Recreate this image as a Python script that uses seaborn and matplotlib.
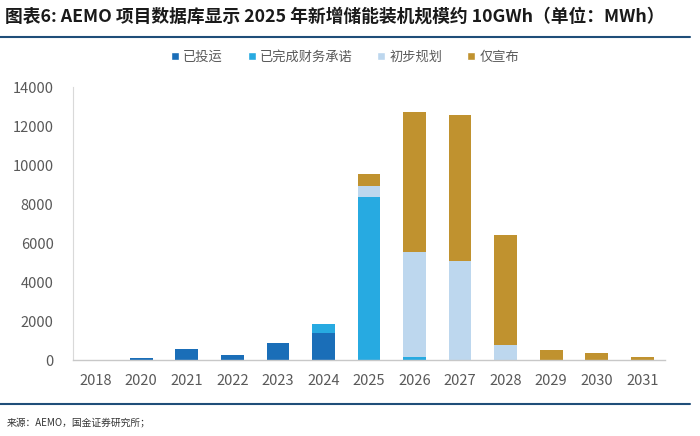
import numpy as np
import pandas as pd
import matplotlib
matplotlib.use("Agg")
import matplotlib.pyplot as plt
from matplotlib.patches import Patch
import seaborn as sns

years = ["2018", "2020", "2021", "2022", "2023", "2024", "2025",
         "2026", "2027", "2028", "2029", "2030", "2031"]
operating = [0, 80, 550, 240, 860, 1400, 0, 0, 0, 0, 0, 0, 0]
committed = [0, 0, 0, 0, 0, 430, 8340, 140, 0, 0, 0, 0, 0]
planned = [0, 0, 0, 0, 0, 0, 580, 5400, 5090, 770, 0, 0, 0]
announced = [0, 0, 0, 0, 0, 0, 630, 7160, 7460, 5640, 500, 375, 140]

series_names = ["已投运", "已完成财务承诺", "初步规划", "仅宣布"]
colors = ["#1a6eb8", "#27aae1", "#bdd7ee", "#c0922f"]

sns.set_theme(style="white")
plt.rcParams["font.family"] = ["Noto Sans CJK SC", "DejaVu Sans"]

df = pd.DataFrame({"year": years, "已投运": operating, "已完成财务承诺": committed,
                   "初步规划": planned, "仅宣布": announced})

fig = plt.figure(figsize=(7, 4.36), dpi=100)
ax = fig.add_axes([73 / 700, 1 - 360 / 436, 592 / 700, 273 / 436])

bottom = np.zeros(len(years))
for name, c in zip(series_names, colors):
    sns.barplot(data=df, x="year", y=name, color=c, width=0.5, bottom=bottom,
                ax=ax, saturation=1, linewidth=0)
    bottom = bottom + df[name].values

ax.set_ylim(0, 14000)
ax.set_xlim(-0.5, len(years) - 0.5)
ax.set_yticks(range(0, 14001, 2000))
ax.set_xlabel("")
ax.set_ylabel("")
ax.tick_params(axis="x", length=0, labelsize=10.5, labelcolor="#595959", pad=10)
ax.tick_params(axis="y", length=0, labelsize=10.5, labelcolor="#595959", pad=14)
ax.set_xticks(np.arange(-0.5, len(years), 1), minor=True)
ax.tick_params(axis="x", which="minor", direction="in", length=3, color="#bfbfbf", width=0.8)
for s in ["top", "right"]:
    ax.spines[s].set_visible(False)
ax.spines["left"].set_color("#d9d9d9")
ax.spines["bottom"].set_color("#c8c8c8")
ax.spines["left"].set_linewidth(0.8)
ax.spines["bottom"].set_linewidth(1.0)

handles = [Patch(facecolor=c, label=n) for n, c in zip(series_names, colors)]
fig.legend(handles=handles, loc="center", bbox_to_anchor=(345 / 700, 1 - 57 / 436),
           ncol=4, frameon=False, fontsize=9.5, handlelength=0.6, handleheight=0.6,
           handletextpad=0.3, columnspacing=1.9, labelcolor="#595959")

fig.text(5 / 700, 1 - 17 / 436, "图表6: AEMO 项目数据库显示 2025 年新增储能装机规模约 10GWh（单位：MWh）",
         fontsize=12.8, fontweight="bold", style="italic", color="#1a1a1a", va="center", ha="left")
fig.add_artist(plt.Line2D([0, 690 / 700], [1 - 37 / 436, 1 - 37 / 436], color="#1f4e79", lw=1.5))
fig.add_artist(plt.Line2D([0, 690 / 700], [1 - 404 / 436, 1 - 404 / 436], color="#1f4e79", lw=1.5))
fig.text(7 / 700, 1 - 422 / 436, "来源：AEMO，国金证券研究所；", fontsize=7, color="#333333",
         va="center", ha="left")

fig.savefig("out.png", dpi=100)
